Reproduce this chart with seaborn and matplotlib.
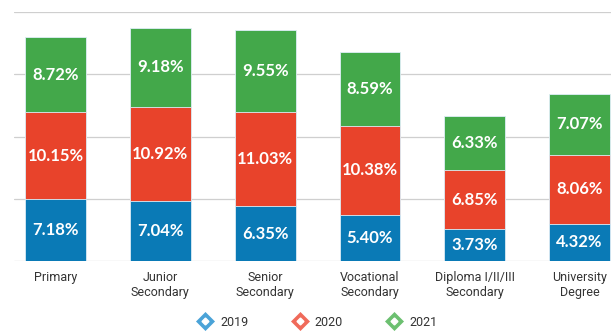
import matplotlib
matplotlib.use("Agg")
import matplotlib.pyplot as plt
from matplotlib.lines import Line2D
from matplotlib.legend_handler import HandlerTuple
import numpy as np
import pandas as pd
import seaborn as sns

categories = ["Primary", "Junior\nSecondary", "Senior\nSecondary",
              "Vocational\nSecondary", "Diploma I/II/III\nSecondary",
              "University\nDegree"]
years = ["2019", "2020", "2021"]
v2019 = [7.18, 7.04, 6.35, 5.40, 3.73, 4.32]
v2020 = [10.15, 10.92, 11.03, 10.38, 6.85, 8.06]
v2021 = [8.72, 9.18, 9.55, 8.59, 6.33, 7.07]

colors = {"2019": "#0a7ab6", "2020": "#e8432b", "2021": "#43a84a"}
legend_colors = {"2019": "#4aa3d8", "2020": "#f06a5a", "2021": "#6cc070"}

sns.set_theme(style="white")
plt.rcParams["font.family"] = ["Roboto", "DejaVu Sans"]

df = pd.DataFrame({"category": categories, "2019": v2019,
                   "2020": v2020, "2021": v2021})
df["c2020"] = df["2019"] + df["2020"]
df["c2021"] = df["c2020"] + df["2021"]

fig = plt.figure(figsize=(6.11, 3.35), dpi=100)
ax = fig.add_axes([14 / 611, 74 / 335, 1 - 14 / 611, 249 / 335])

# cumulative layers drawn back to front to form the stack
for col, year in [("c2021", "2021"), ("c2020", "2020"), ("2019", "2019")]:
    sns.barplot(data=df, x="category", y=col, color=colors[year],
                width=0.58, saturation=1, ax=ax, edgecolor="#dfeef7",
                linewidth=0.6, zorder=3)

# value labels at the middle of each segment
lows = {"2019": np.zeros(6), "2020": df["2019"].values, "2021": df["c2020"].values}
for year in years:
    vals = df[year].values
    for i, (lo, v) in enumerate(zip(lows[year], vals)):
        ax.text(i, lo + v / 2, f"{v:.2f}%", ha="center", va="center",
                color="white", fontsize=12, fontweight="bold",
                family=["Lato", "DejaVu Sans"], zorder=5)

ax.set_xlim(-0.396, 5.30)
ax.set_ylim(0, 29)
ax.set_yticks(np.linspace(0, 29, 5))
ax.set_yticklabels([])
ax.grid(axis="y", color="#cfcfcf", linewidth=0.9, zorder=0)
ax.set_axisbelow(True)
for s in ax.spines.values():
    s.set_visible(False)
ax.set_xlabel("")
ax.set_ylabel("")
ax.set_xticks(range(6))
ax.set_xticklabels(categories, fontsize=9, color="#333333", linespacing=1.25)
ax.tick_params(axis="x", length=0, pad=7)
ax.tick_params(axis="y", length=0)

# diamond legend markers with a small white diamond in the middle
handles = []
for year in years:
    outer = Line2D([], [], marker="D", linestyle="none", markersize=9,
                   markerfacecolor=legend_colors[year], markeredgecolor=legend_colors[year],
                   markeredgewidth=0.5)
    inner = Line2D([], [], marker="D", linestyle="none", markersize=3.5,
                   markerfacecolor="white", markeredgecolor="white")
    handles.append((outer, inner))

fig.legend(handles, years, loc="center", bbox_to_anchor=(0.521, 1 - 322 / 335),
           ncol=3, frameon=False, fontsize=9, handlelength=1.0,
           handletextpad=0.7, columnspacing=3.6,
           handler_map={tuple: HandlerTuple(ndivide=1, pad=0)},
           labelcolor="#333333")

fig.savefig("out.png", dpi=100)
